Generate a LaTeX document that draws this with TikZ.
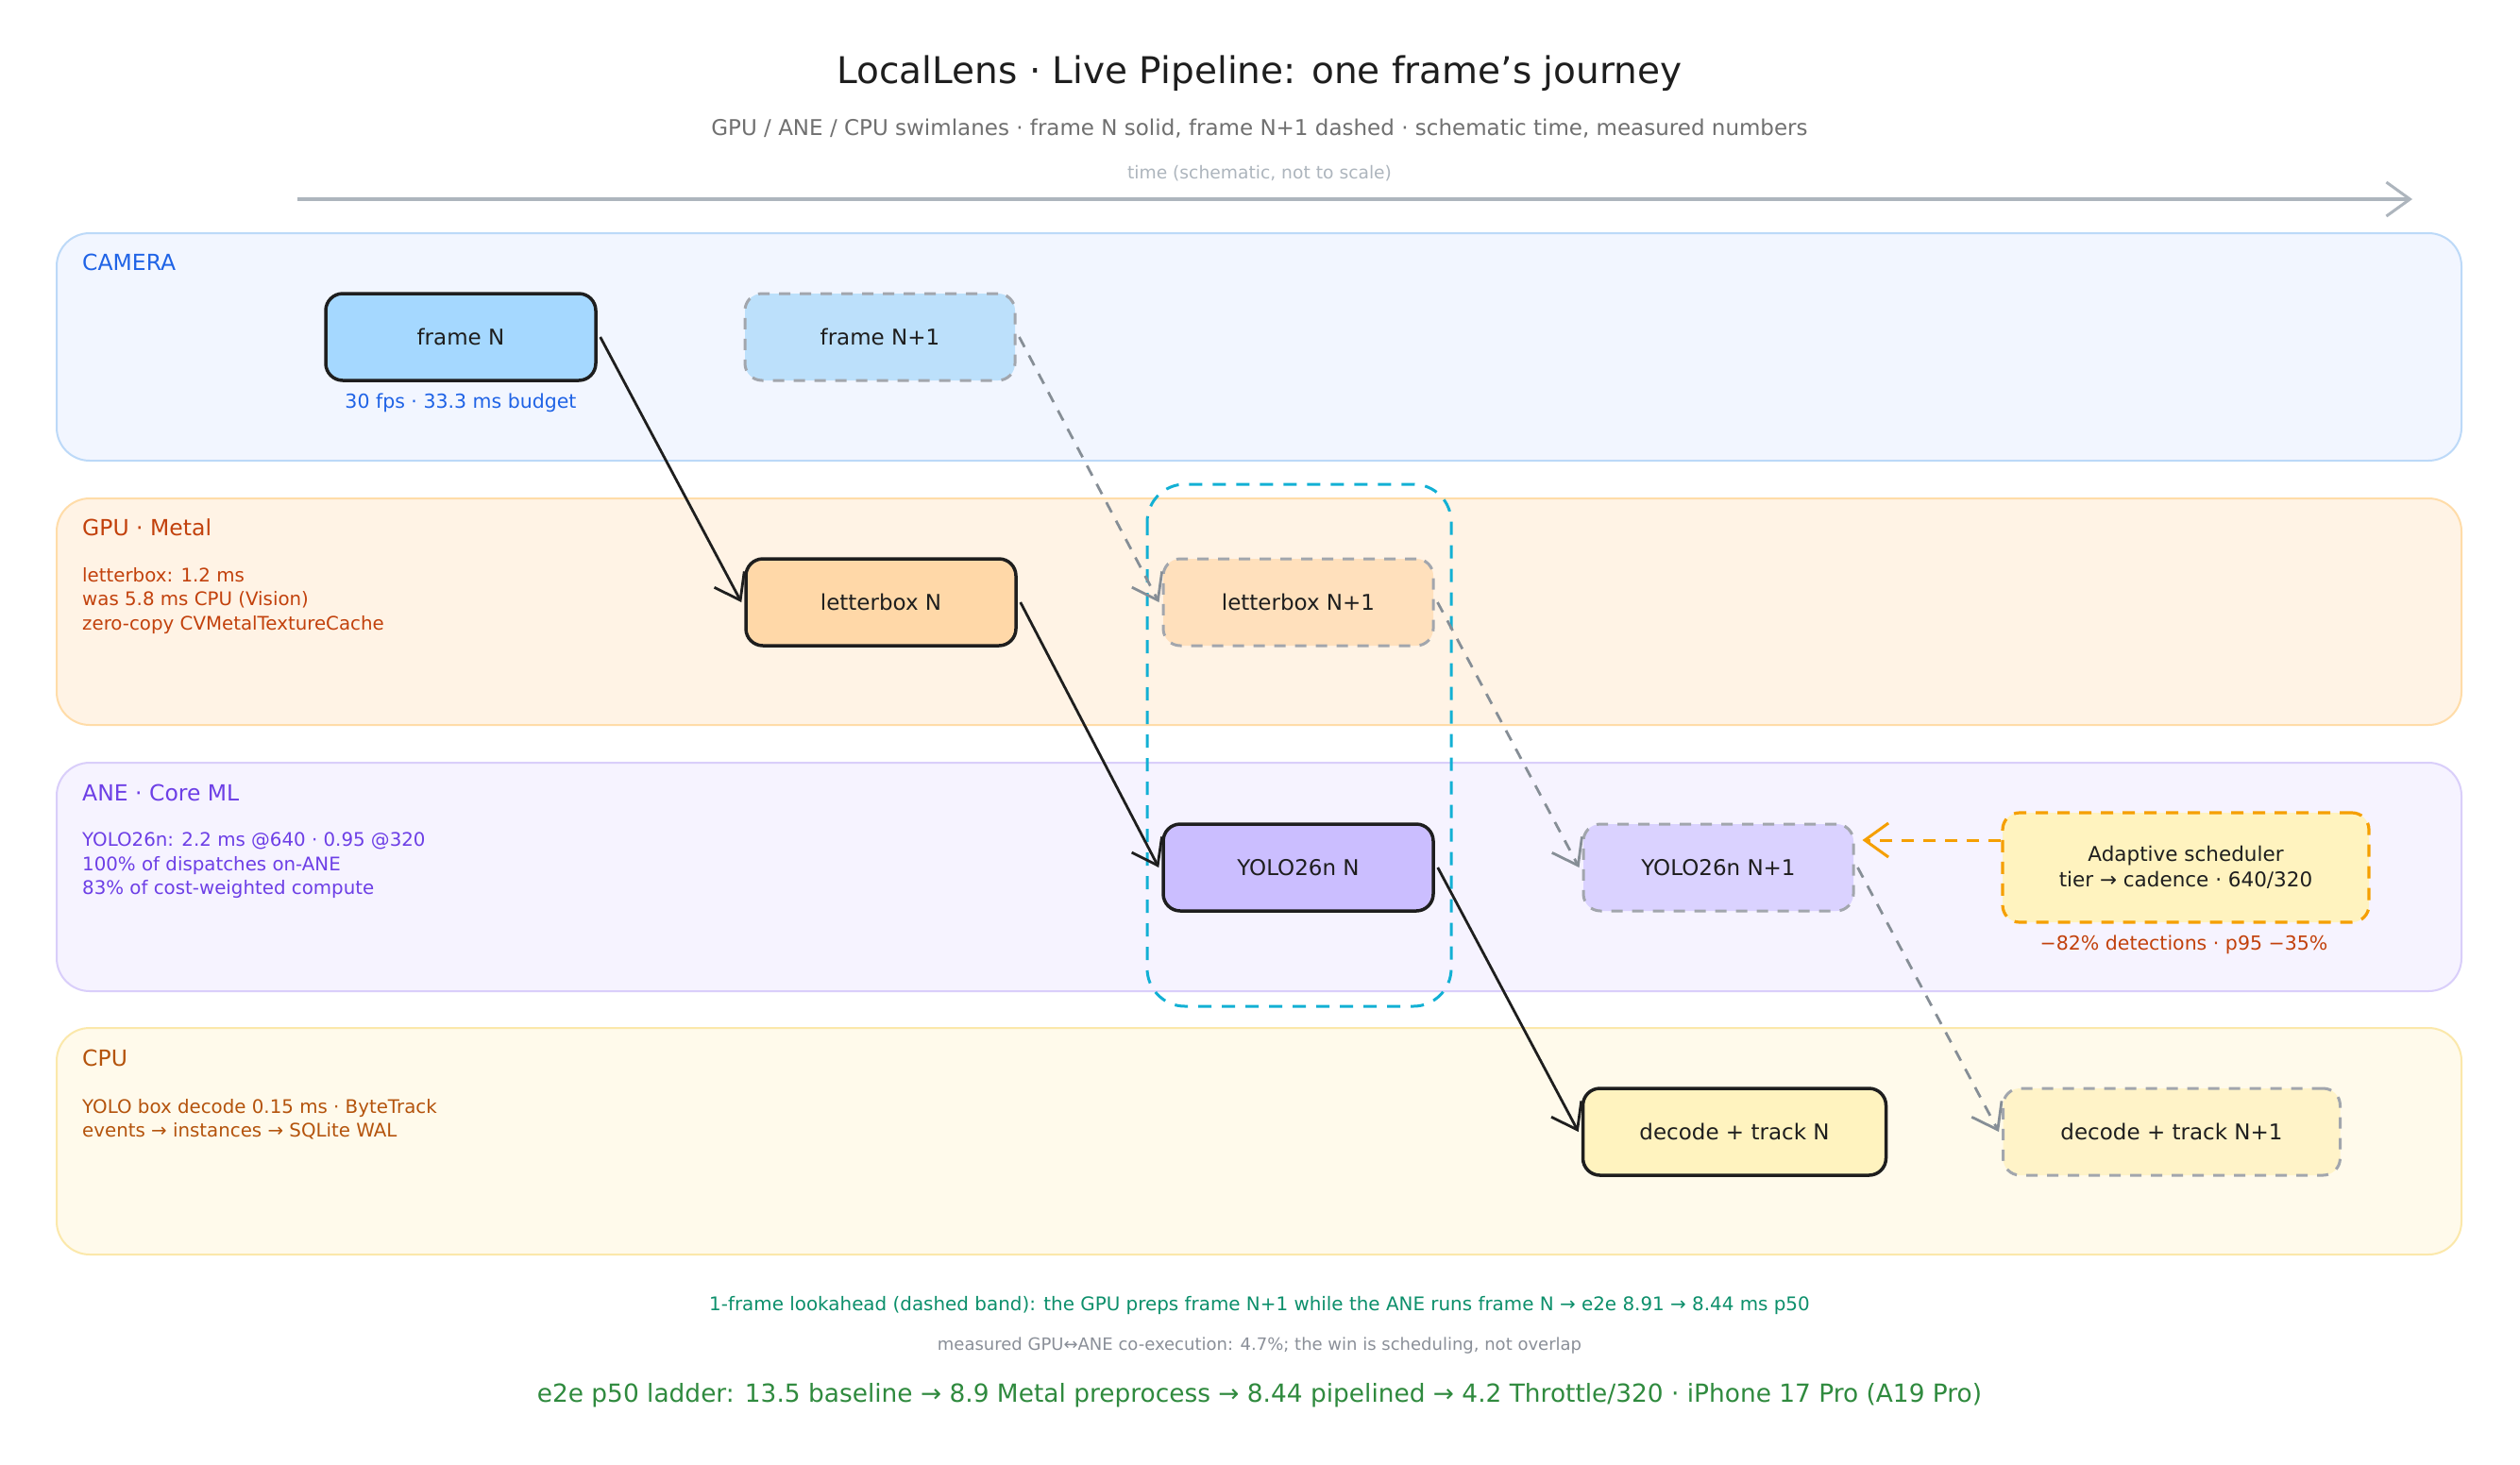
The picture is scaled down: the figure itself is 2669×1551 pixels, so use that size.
\documentclass[tikz,border=0pt]{standalone}
\usepackage{fontspec}
\setmainfont{DejaVu Sans}
\usetikzlibrary{arrows.meta}
\definecolor{camfill}{HTML}{F2F6FF}
\definecolor{camline}{HTML}{BCD9F8}
\definecolor{camtxt}{HTML}{1F63E6}
\definecolor{gpufill}{HTML}{FFF3E5}
\definecolor{gpuline}{HTML}{FFDCA8}
\definecolor{gputxt}{HTML}{C2410C}
\definecolor{anefill}{HTML}{F6F3FF}
\definecolor{aneline}{HTML}{D9CEFA}
\definecolor{anetxt}{HTML}{6D3FE6}
\definecolor{cpufill}{HTML}{FFFAEB}
\definecolor{cpuline}{HTML}{FBE8AA}
\definecolor{cputxt}{HTML}{B4530C}
\definecolor{fNfill}{HTML}{A5D8FF}
\definecolor{fN1fill}{HTML}{BCE0FB}
\definecolor{lNfill}{HTML}{FFD8A8}
\definecolor{lN1fill}{HTML}{FFE0BC}
\definecolor{yNfill}{HTML}{CBBEFF}
\definecolor{yN1fill}{HTML}{DAD2FF}
\definecolor{dNfill}{HTML}{FFF3BF}
\definecolor{dN1fill}{HTML}{FFF3C8}
\definecolor{dashgray}{HTML}{A2A6AD}
\definecolor{arrgray}{HTML}{868E96}
\definecolor{bandcyan}{HTML}{12B0D4}
\definecolor{schedorange}{HTML}{F59F00}
\definecolor{teal}{HTML}{0C8F6B}
\definecolor{ladder}{HTML}{2F8A3E}
\definecolor{notegray}{HTML}{8A8F98}
\definecolor{titlegray}{HTML}{707070}
\definecolor{timegray}{HTML}{ADB5BD}
\definecolor{inkblack}{HTML}{1E1E1E}
\tikzset{
  lane/.style={line width=2pt, rounded corners=35pt},
  lanelabel/.style={anchor=west, font=\fontsize{23.5}{28}\selectfont, inner sep=0pt},
  lanenote/.style={anchor=north west, align=left, font=\fontsize{19.8}{25.5}\selectfont, inner sep=0pt},
  box/.style={draw=inkblack, line width=3.5pt, rounded corners=18pt, minimum width=286pt, minimum height=92pt, font=\fontsize{23}{28}\selectfont, inner sep=0pt, text=inkblack},
  dbox/.style={box, draw=dashgray, line width=3pt, dash pattern=on 12pt off 10pt},
  solidarrow/.style={draw=inkblack, line width=2.8pt, -{Straight Barb[length=25pt,width=36pt,line width=2.8pt]}},
  dasharrow/.style={draw=arrgray, line width=2.8pt, dash pattern=on 12pt off 10pt, -{Straight Barb[length=25pt,width=36pt,line width=2.8pt]}},
}
\begin{document}
\begin{tikzpicture}[x=1pt,y=-1pt]
\useasboundingbox (0,0) rectangle (2669,1551);
\fill[white] (0,0) rectangle (2669,1551);
% title
\node[font=\fontsize{39}{44}\selectfont, text=inkblack] (title) at (1334,78) {LocalLens · Live Pipeline: one frame's journey};
\node[font=\fontsize{23}{28}\selectfont, text=titlegray] (subtitle) at (1334,136) {GPU / ANE / CPU swimlanes · frame N solid, frame N+1 dashed · schematic time, measured numbers};
\node[font=\fontsize{18.7}{22}\selectfont, text=timegray] (timelbl) at (1334,184) {time (schematic, not to scale)};
\coordinate (t0) at (315,211);
\coordinate (t1) at (2555,211);
\draw[timegray, line width=4pt, -{Straight Barb[length=25pt,width=36pt,line width=3pt]}] (t0) -- (t1);
% lanes
\draw[lane, draw=camline, fill=camfill] (60,247) rectangle (2607,488);
\draw[lane, draw=gpuline, fill=gpufill] (60,528) rectangle (2607,768);
\draw[lane, draw=aneline, fill=anefill] (60,808) rectangle (2607,1050);
\draw[lane, draw=cpuline, fill=cpufill] (60,1089) rectangle (2607,1329);
% lane labels
\node[lanelabel, text=camtxt] (lcam) at (87,278) {CAMERA};
\node[lanelabel, text=gputxt] (lgpu) at (87,559) {GPU · Metal};
\node[lanelabel, text=anetxt] (lane) at (87,840) {ANE · Core ML};
\node[lanelabel, text=cputxt] (lcpu) at (87,1121) {CPU};
\node[lanenote, text=gputxt] (ngpu) at (87,601) {letterbox: 1.2 ms\\was 5.8 ms CPU (Vision)\\zero-copy CVMetalTextureCache};
\node[lanenote, text=anetxt] (nane) at (87,882) {YOLO26n: 2.2 ms @640 · 0.95 @320\\100\% of dispatches on-ANE\\83\% of cost-weighted compute};
\node[lanenote, text=cputxt] (ncpu) at (87,1164) {YOLO box decode 0.15 ms · ByteTrack\\events → instances → SQLite WAL};
% lookahead band
\draw[bandcyan, line width=3pt, dash pattern=on 14pt off 11pt, rounded corners=40pt] (1215,513) rectangle (1537,1066);
% nodes
\node[box, fill=fNfill] (fN) at (488,357) {frame N};
\node[dbox, fill=fN1fill] (fN1) at (932,357) {frame N+1};
\node[box, fill=lNfill] (lN) at (933,638) {letterbox N};
\node[dbox, fill=lN1fill] (lN1) at (1375,638) {letterbox N+1};
\node[box, fill=yNfill] (yN) at (1375,919) {YOLO26n N};
\node[dbox, fill=yN1fill] (yN1) at (1820,919) {YOLO26n N+1};
\node[box, fill=dNfill, minimum width=321pt] (dN) at (1837,1199) {decode + track N};
\node[dbox, fill=dN1fill, minimum width=357pt] (dN1) at (2300,1199) {decode + track N+1};
\node[box, draw=schedorange, line width=3.2pt, dash pattern=on 13pt off 10pt, fill=dNfill, minimum width=388pt, minimum height=116pt, align=center, font=\fontsize{21.5}{27}\selectfont] (sched) at (2315,919) {Adaptive scheduler\\tier → cadence · 640/320};
% captions
\node[font=\fontsize{20.5}{24}\selectfont, text=camtxt] (capcam) at (488,427) {30 fps · 33.3 ms budget};
\node[font=\fontsize{20.5}{24}\selectfont, text=gputxt] (capsched) at (2313,1001) {−82\% detections · p95 −35\%};
% arrows frame N
\draw[solidarrow] ([xshift=3pt]fN.east) -- ([xshift=-3pt]lN.west);
\draw[solidarrow] ([xshift=3pt]lN.east) -- ([xshift=-3pt]yN.west);
\draw[solidarrow] ([xshift=3pt]yN.east) -- ([xshift=-3pt]dN.west);
% arrows frame N+1
\draw[dasharrow] ([xshift=3pt]fN1.east) -- ([xshift=-3pt]lN1.west);
\draw[dasharrow] ([xshift=3pt]lN1.east) -- ([xshift=-3pt]yN1.west);
\draw[dasharrow] ([xshift=3pt]yN1.east) -- ([xshift=-3pt]dN1.west);
% scheduler arrow
\draw[schedorange, line width=3pt, dash pattern=on 13pt off 10pt, -{Straight Barb[length=25pt,width=36pt,line width=3pt]}] ([yshift=29pt]sched.west) -- ([xshift=8pt,yshift=29pt]yN1.east);
% bottom notes
\node[font=\fontsize{19.9}{24}\selectfont, text=teal] (note1) at (1334,1383) {1-frame lookahead (dashed band): the GPU preps frame N+1 while the ANE runs frame N → e2e 8.91 → 8.44 ms p50};
\node[font=\fontsize{18}{22}\selectfont, text=notegray] (note2) at (1334,1426) {measured GPU↔ANE co-execution: 4.7\%; the win is scheduling, not overlap};
\node[font=\fontsize{26.4}{30}\selectfont, text=ladder] (note3) at (1334,1478) {e2e p50 ladder: 13.5 baseline → 8.9 Metal preprocess → 8.44 pipelined → 4.2 Throttle/320 · iPhone 17 Pro (A19 Pro)};
\end{tikzpicture}
\end{document}
